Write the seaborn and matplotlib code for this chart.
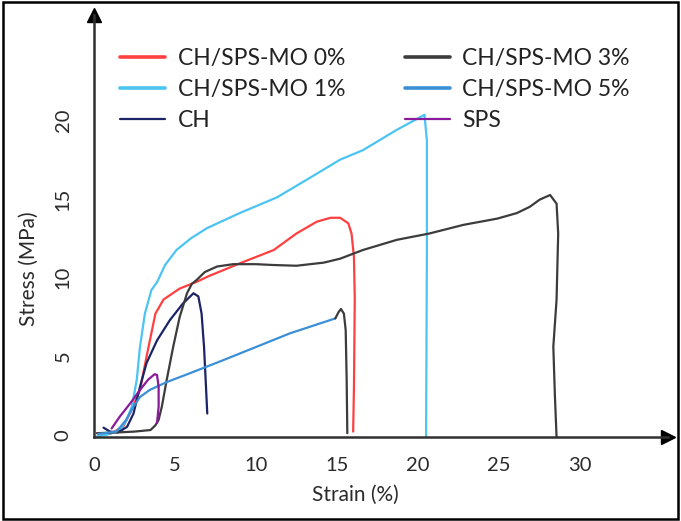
import matplotlib
matplotlib.use("Agg")
import matplotlib.pyplot as plt
import seaborn as sns
import numpy as np
import pandas as pd
from matplotlib.patches import Rectangle

# ---------------- data ----------------
mo0_x = [0.2, 1.0, 1.8, 2.25, 2.85, 3.25, 3.5, 3.8, 4.3, 5.3, 6.4, 7.0, 9.0, 11.1, 12.5, 13.75, 14.6, 15.2, 15.7, 15.9, 16.05, 16.1, 16.05, 16.0]
mo0_y = [0.1, 0.05, 0.5, 1.4, 2.85, 4.95, 6.2, 7.7, 8.6, 9.3, 9.75, 10.05, 10.9, 11.75, 12.8, 13.55, 13.8, 13.8, 13.45, 12.8, 11.3, 8.6, 3.0, 0.2]

mo1_x = [0.2, 0.8, 1.6, 2.0, 2.35, 2.65, 2.85, 3.15, 3.55, 3.9, 4.4, 5.1, 6.0, 7.0, 9.0, 11.3, 13.1, 15.2, 16.6, 18.7, 20.4, 20.55, 20.55, 20.5]
mo1_y = [-0.1, 0.0, 0.3, 0.9, 1.8, 3.5, 5.6, 7.7, 9.2, 9.7, 10.8, 11.75, 12.5, 13.15, 14.1, 15.1, 16.2, 17.5, 18.1, 19.4, 20.35, 18.7, 11.7, -0.15]

mo3_x = [0.2, 1.5, 2.5, 3.5, 3.8, 4.0, 4.2, 4.5, 4.9, 5.3, 5.75, 6.05, 6.35, 6.85, 7.6, 8.6, 10.0, 11.0, 12.5, 14.2, 15.2, 16.6, 18.7, 20.7, 22.8, 24.9, 26.1, 26.9, 27.5, 28.15, 28.55, 28.65, 28.55, 28.35, 28.45, 28.55]
mo3_y = [0.1, 0.15, 0.2, 0.3, 0.6, 0.95, 1.8, 3.5, 5.6, 7.5, 9.0, 9.6, 9.85, 10.35, 10.7, 10.85, 10.85, 10.8, 10.75, 10.95, 11.2, 11.75, 12.4, 12.8, 13.35, 13.75, 14.1, 14.5, 14.95, 15.25, 14.7, 12.8, 8.6, 5.6, 2.4, -0.15]

mo5_x = [0.25, 1.4, 2.0, 2.45, 2.85, 3.45, 4.5, 5.9, 8.0, 10.05, 12.1, 14.9]
mo5_y = [0.05, 0.2, 0.95, 1.8, 2.4, 2.85, 3.35, 3.9, 4.75, 5.6, 6.45, 7.4]
mo5_tail_x = [14.9, 15.1, 15.25, 15.43, 15.54, 15.6, 15.64]
mo5_tail_y = [7.4, 7.8, 8.0, 7.7, 6.65, 3.5, 0.1]

ch_x = [0.6, 1.0, 1.5, 2.05, 2.45, 2.85, 3.25, 3.9, 4.7, 5.5, 6.15, 6.45, 6.65, 6.8, 6.9, 7.0]
ch_y = [0.45, 0.2, 0.15, 0.5, 1.35, 3.05, 4.55, 6.0, 7.3, 8.35, 9.0, 8.8, 7.7, 5.6, 3.5, 1.35]

sps_x = [1.1, 1.6, 2.25, 2.85, 3.35, 3.75, 3.9, 4.0, 4.0, 3.9]
sps_y = [0.4, 1.15, 2.0, 2.85, 3.5, 3.85, 3.8, 3.05, 1.8, 0.75]

labels = ["CH/SPS-MO 0%", "CH/SPS-MO 1%", "CH", "CH/SPS-MO 3%", "CH/SPS-MO 5%", "SPS"]
x_ticks = [0, 5, 10, 15, 20, 25, 30]
y_ticks = [0, 5, 10, 15, 20]

# ---------------- style ----------------
sns.set_style("white")
plt.rcParams["font.family"] = ["Lato", "DejaVu Sans"]

fig = plt.figure(figsize=(6.81, 5.21), dpi=100)
W, H = 681, 521
left_px, right_px, top_px, bot_px = 93.8, 667.6, 15.0, 437.1
ax = fig.add_axes([left_px / W, 1 - bot_px / H, (right_px - left_px) / W, (bot_px - top_px) / H])

series = [
    (mo0_x, mo0_y, "#ff4040", labels[0]),
    (mo1_x, mo1_y, "#4cc4f2", labels[1]),
    (ch_x, ch_y, "#1b2466", labels[2]),
    (mo3_x, mo3_y, "#3c3c3c", labels[3]),
    (mo5_x, mo5_y, "#3b8fd6", labels[4]),
    (sps_x, sps_y, "#8a1a9a", labels[5]),
]
handles = []
for xs, ys, c, lab in series:
    df = pd.DataFrame({"x": xs, "y": ys})
    sns.lineplot(data=df, x="x", y="y", sort=False, estimator=None, color=c,
                 linewidth=1.6, ax=ax, legend=False)
    handles.append(plt.Line2D([], [], color=c, lw=2.6 if lab not in ("CH", "SPS") else 1.6))
df_tail = pd.DataFrame({"x": mo5_tail_x, "y": mo5_tail_y})
sns.lineplot(data=df_tail, x="x", y="y", sort=False, estimator=None, color="#3c3c3c",
             linewidth=1.6, ax=ax, legend=False)

ax.set_xlim(0, 35.4)
ax.set_ylim(-0.15, 26.7)
ax.set_xticks(x_ticks)
ax.set_yticks(y_ticks)
ax.set_xticklabels([str(t) for t in x_ticks])
ax.set_yticklabels([str(t) for t in y_ticks], rotation=90, va="center")

for s in ["top", "right"]:
    ax.spines[s].set_visible(False)
for s in ["left", "bottom"]:
    ax.spines[s].set_color("#303030")
    ax.spines[s].set_linewidth(1.8)
ax.tick_params(axis="x", direction="out", length=8, width=1.6, color="#303030",
               labelsize=14.5, pad=6, labelcolor="#2a2a2a")
ax.tick_params(axis="y", direction="out", length=11, width=1.6, color="#303030",
               labelsize=14.5, pad=5, labelcolor="#2a2a2a")
ax.plot(1, 0, marker=">", ms=10, color="black", transform=ax.transAxes, clip_on=False)
ax.plot(0, 1, marker="^", ms=10, color="black", transform=ax.transAxes, clip_on=False)

ax.set_xlabel("Strain (%)", fontsize=15, color="#2a2a2a")
ax.set_ylabel("Stress (MPa)", fontsize=15, color="#2a2a2a")
ax.xaxis.set_label_coords(0.455, -0.112)
ax.yaxis.set_label_coords(-0.095, 0.40)

leg = ax.legend(handles, labels, ncol=2, frameon=False, fontsize=16.5,
                loc="upper left", bbox_to_anchor=(109 / W, 1 - 37 / H),
                bbox_transform=fig.transFigure, handlelength=1.95, handletextpad=0.55,
                columnspacing=2.6, labelspacing=0.42, borderpad=0)
for t in leg.get_texts():
    t.set_color("#222222")

fig.patches.append(Rectangle((0.004, 0.004), 0.992, 0.992, transform=fig.transFigure,
                             fill=False, edgecolor="black", linewidth=1.8))

fig.savefig("out.png", dpi=100)
